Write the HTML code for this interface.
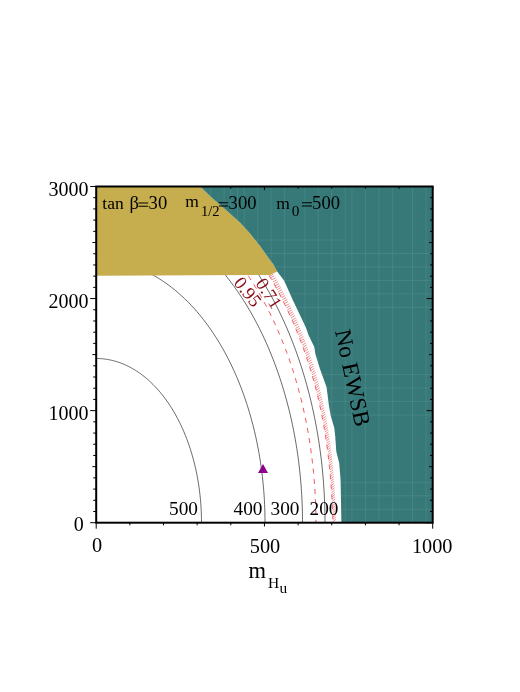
<!DOCTYPE html><html><head><meta charset="utf-8"><style>html,body{margin:0;padding:0;background:#fff}svg{display:block;will-change:transform;opacity:0.999}text{font-family:"Liberation Serif",serif;fill:#000}</style></head><body>
<svg width="520" height="692" viewBox="0 0 520 692">
<rect width="520" height="692" fill="#fff"/>
<defs><clipPath id="tc"><path d="M200.20,186.50 L211.00,197.00 L226.00,210.00 L236.00,219.00 L240.00,222.50 L250.00,233.50 L260.00,246.00 L270.00,260.00 L273.10,264.00 L277.20,271.50 L284.20,280.80 L292.80,300.00 L306.00,327.70 L308.50,335.00 L314.30,347.10 L315.40,354.00 L320.00,369.00 L326.60,387.30 L328.90,405.50 L330.80,416.00 L334.30,428.10 L335.20,436.00 L336.30,451.60 L339.20,463.10 L340.60,479.90 L341.40,522.70 L432.70,522.70 L432.70,186.50Z"/></clipPath><clipPath id="wc"><rect x="96.2" y="270" width="336.5" height="252.70000000000005"/></clipPath></defs>
<g clip-path="url(#wc)" fill="none">
<path d="M201.50,522.70 L201.49,521.09 L201.48,519.48 L201.45,517.86 L201.42,516.25 L201.37,514.64 L201.32,513.03 L201.25,511.42 L201.18,509.82 L201.09,508.21 L200.99,506.61 L200.89,505.00 L200.77,503.40 L200.64,501.80 L200.51,500.20 L200.36,498.61 L200.20,497.01 L200.04,495.42 L199.86,493.83 L199.67,492.25 L199.48,490.67 L199.27,489.09 L199.05,487.51 L198.83,485.94 L198.59,484.37 L198.34,482.80 L198.09,481.24 L197.82,479.68 L197.55,478.13 L197.26,476.58 L196.97,475.04 L196.66,473.49 L196.35,471.96 L196.02,470.43 L195.69,468.90 L195.34,467.38 L194.99,465.87 L194.63,464.36 L194.26,462.85 L193.88,461.36 L193.48,459.86 L193.08,458.38 L192.67,456.90 L192.26,455.42 L191.83,453.96 L191.39,452.50 L190.94,451.04 L190.49,449.59 L190.02,448.15 L189.55,446.72 L189.07,445.30 L188.57,443.88 L188.07,442.47 L187.56,441.07 L187.05,439.67 L186.52,438.28 L185.98,436.91 L185.44,435.54 L184.89,434.17 L184.32,432.82 L183.75,431.48 L183.18,430.14 L182.59,428.81 L181.99,427.49 L181.39,426.19 L180.78,424.89 L180.16,423.60 L179.53,422.32 L178.89,421.04 L178.25,419.78 L177.60,418.53 L176.94,417.29 L176.27,416.06 L175.60,414.84 L174.91,413.63 L174.22,412.43 L173.52,411.24 L172.82,410.06 L172.11,408.90 L171.39,407.74 L170.66,406.59 L169.92,405.46 L169.18,404.34 L168.43,403.22 L167.68,402.12 L166.92,401.04 L166.15,399.96 L165.37,398.89 L164.59,397.84 L163.80,396.80 L163.00,395.77 L162.20,394.76 L161.39,393.75 L160.58,392.76 L159.75,391.78 L158.93,390.81 L158.09,389.86 L157.25,388.92 L156.41,387.99 L155.56,387.07 L154.70,386.17 L153.84,385.28 L152.97,384.41 L152.10,383.55 L151.22,382.70 L150.34,381.86 L149.45,381.04 L148.55,380.23 L147.65,379.44 L146.75,378.66 L145.84,377.89 L144.92,377.14 L144.01,376.40 L143.08,375.67 L142.15,374.96 L141.22,374.26 L140.28,373.58 L139.34,372.92 L138.40,372.26 L137.45,371.62 L136.50,371.00 L135.54,370.39 L134.58,369.79 L133.61,369.21 L132.65,368.65 L131.67,368.10 L130.70,367.56 L129.72,367.04 L128.74,366.54 L127.75,366.05 L126.77,365.57 L125.78,365.11 L124.78,364.66 L123.79,364.23 L122.79,363.82 L121.79,363.42 L120.78,363.04 L119.78,362.67 L118.77,362.32 L117.76,361.98 L116.74,361.66 L115.73,361.35 L114.71,361.06 L113.69,360.78 L112.67,360.52 L111.65,360.28 L110.63,360.05 L109.60,359.84 L108.58,359.64 L107.55,359.46 L106.52,359.29 L105.49,359.14 L104.46,359.01 L103.43,358.89 L102.40,358.78 L101.37,358.70 L100.33,358.63 L99.30,358.57 L98.27,358.53 L97.23,358.51 L96.20,358.50" stroke="#000" stroke-width="0.6"/>
<path d="M265.00,522.70 L264.99,520.12 L264.97,517.54 L264.93,514.96 L264.87,512.37 L264.80,509.80 L264.71,507.22 L264.60,504.64 L264.48,502.07 L264.34,499.49 L264.19,496.92 L264.02,494.35 L263.83,491.79 L263.63,489.23 L263.41,486.67 L263.17,484.11 L262.92,481.56 L262.65,479.01 L262.37,476.47 L262.07,473.93 L261.76,471.39 L261.43,468.86 L261.08,466.34 L260.71,463.82 L260.34,461.30 L259.94,458.80 L259.53,456.29 L259.10,453.80 L258.66,451.31 L258.20,448.83 L257.73,446.36 L257.24,443.89 L256.74,441.43 L256.22,438.98 L255.68,436.53 L255.13,434.10 L254.57,431.67 L253.99,429.25 L253.39,426.84 L252.78,424.44 L252.15,422.05 L251.51,419.67 L250.85,417.30 L250.18,414.94 L249.49,412.59 L248.79,410.25 L248.08,407.92 L247.35,405.61 L246.60,403.30 L245.84,401.01 L245.07,398.72 L244.28,396.45 L243.48,394.19 L242.66,391.95 L241.83,389.71 L240.98,387.49 L240.13,385.28 L239.25,383.09 L238.37,380.91 L237.47,378.74 L236.55,376.59 L235.62,374.45 L234.68,372.32 L233.73,370.21 L232.76,368.11 L231.78,366.03 L230.79,363.96 L229.78,361.91 L228.76,359.88 L227.73,357.86 L226.68,355.85 L225.63,353.87 L224.56,351.90 L223.47,349.94 L222.38,348.00 L221.27,346.08 L220.15,344.18 L219.02,342.29 L217.88,340.42 L216.73,338.57 L215.56,336.73 L214.38,334.91 L213.19,333.12 L211.99,331.34 L210.78,329.57 L209.56,327.83 L208.33,326.11 L207.08,324.40 L205.83,322.71 L204.56,321.05 L203.29,319.40 L202.00,317.77 L200.70,316.16 L199.40,314.57 L198.08,313.00 L196.75,311.46 L195.42,309.93 L194.07,308.42 L192.72,306.93 L191.35,305.47 L189.98,304.02 L188.60,302.60 L187.21,301.20 L185.81,299.82 L184.40,298.46 L182.98,297.12 L181.55,295.80 L180.12,294.51 L178.68,293.23 L177.23,291.98 L175.77,290.75 L174.31,289.55 L172.83,288.37 L171.35,287.20 L169.87,286.07 L168.37,284.95 L166.87,283.86 L165.36,282.79 L163.85,281.74 L162.32,280.72 L160.80,279.72 L159.26,278.74 L157.72,277.79 L156.18,276.86 L154.62,275.96 L153.07,275.07 L151.50,274.22 L149.94,273.38 L148.36,272.57 L146.78,271.79 L145.20,271.02 L143.61,270.29 L142.02,269.57 L140.42,268.89 L138.82,268.22 L137.22,267.58 L135.61,266.97 L133.99,266.38 L132.38,265.81 L130.75,265.27 L129.13,264.75 L127.50,264.26 L125.87,263.80 L124.24,263.35 L122.61,262.94 L120.97,262.55 L119.33,262.18 L117.69,261.84 L116.04,261.52 L114.39,261.23 L112.75,260.97 L111.10,260.73 L109.44,260.51 L107.79,260.32 L106.14,260.16 L104.48,260.02 L102.83,259.90 L101.17,259.81 L99.51,259.75 L97.86,259.71 L96.20,259.70" stroke="#000" stroke-width="0.6"/>
<path d="M302.50,522.70 L302.49,519.58 L302.46,516.46 L302.41,513.35 L302.34,510.23 L302.25,507.12 L302.14,504.00 L302.01,500.89 L301.86,497.78 L301.70,494.67 L301.51,491.57 L301.30,488.47 L301.07,485.37 L300.82,482.28 L300.55,479.18 L300.27,476.10 L299.96,473.02 L299.63,469.94 L299.29,466.87 L298.92,463.80 L298.54,460.74 L298.13,457.68 L297.71,454.64 L297.26,451.59 L296.80,448.56 L296.32,445.53 L295.82,442.51 L295.29,439.50 L294.75,436.49 L294.20,433.49 L293.62,430.51 L293.02,427.53 L292.40,424.56 L291.77,421.60 L291.11,418.64 L290.44,415.70 L289.75,412.77 L289.04,409.85 L288.31,406.94 L287.56,404.05 L286.80,401.16 L286.01,398.28 L285.21,395.42 L284.39,392.57 L283.55,389.73 L282.69,386.91 L281.82,384.10 L280.93,381.30 L280.01,378.51 L279.09,375.74 L278.14,372.98 L277.18,370.24 L276.20,367.51 L275.20,364.80 L274.18,362.10 L273.15,359.42 L272.10,356.75 L271.03,354.10 L269.95,351.47 L268.85,348.85 L267.73,346.25 L266.60,343.67 L265.45,341.10 L264.28,338.55 L263.10,336.02 L261.90,333.51 L260.69,331.01 L259.46,328.53 L258.21,326.08 L256.95,323.64 L255.67,321.22 L254.38,318.82 L253.07,316.44 L251.75,314.07 L250.41,311.73 L249.06,309.41 L247.69,307.11 L246.31,304.83 L244.91,302.58 L243.50,300.34 L242.08,298.12 L240.64,295.93 L239.18,293.76 L237.72,291.61 L236.24,289.48 L234.74,287.37 L233.24,285.29 L231.71,283.23 L230.18,281.20 L228.63,279.18 L227.08,277.19 L225.50,275.23 L223.92,273.28 L222.32,271.37 L220.71,269.47 L219.09,267.60 L217.46,265.76 L215.82,263.94 L214.16,262.14 L212.49,260.37 L210.81,258.63 L209.12,256.91 L207.42,255.21 L205.71,253.54 L203.99,251.90 L202.26,250.29 L200.52,248.70 L198.76,247.13 L197.00,245.60 L195.23,244.09 L193.45,242.60 L191.66,241.15 L189.86,239.72 L188.05,238.31 L186.23,236.94 L184.40,235.59 L182.57,234.27 L180.73,232.98 L178.87,231.72 L177.01,230.48 L175.15,229.28 L173.27,228.10 L171.39,226.95 L169.50,225.82 L167.60,224.73 L165.70,223.67 L163.79,222.63 L161.87,221.62 L159.95,220.64 L158.02,219.70 L156.09,218.78 L154.14,217.89 L152.20,217.02 L150.25,216.19 L148.29,215.39 L146.33,214.62 L144.36,213.88 L142.39,213.16 L140.41,212.48 L138.43,211.83 L136.45,211.20 L134.46,210.61 L132.47,210.05 L130.47,209.51 L128.47,209.01 L126.47,208.54 L124.47,208.10 L122.46,207.68 L120.45,207.30 L118.44,206.95 L116.42,206.63 L114.40,206.34 L112.39,206.08 L110.37,205.85 L108.35,205.65 L106.32,205.48 L104.30,205.34 L102.28,205.24 L100.25,205.16 L98.23,205.12 L96.20,205.10" stroke="#000" stroke-width="0.6"/>
<path d="M325.00,522.70 L324.99,519.24 L324.96,515.79 L324.90,512.33 L324.82,508.88 L324.72,505.43 L324.60,501.98 L324.46,498.53 L324.29,495.08 L324.11,491.64 L323.90,488.20 L323.67,484.76 L323.41,481.33 L323.14,477.90 L322.84,474.47 L322.52,471.05 L322.18,467.64 L321.82,464.22 L321.44,460.82 L321.03,457.42 L320.60,454.03 L320.15,450.64 L319.68,447.26 L319.19,443.89 L318.68,440.53 L318.14,437.17 L317.59,433.82 L317.01,430.48 L316.41,427.15 L315.79,423.83 L315.15,420.52 L314.49,417.22 L313.80,413.93 L313.10,410.64 L312.37,407.37 L311.63,404.11 L310.86,400.87 L310.07,397.63 L309.26,394.41 L308.43,391.19 L307.58,388.00 L306.71,384.81 L305.82,381.64 L304.91,378.48 L303.98,375.33 L303.03,372.20 L302.06,369.08 L301.07,365.98 L300.06,362.90 L299.03,359.82 L297.98,356.77 L296.92,353.73 L295.83,350.71 L294.72,347.70 L293.59,344.71 L292.45,341.74 L291.28,338.78 L290.10,335.84 L288.90,332.92 L287.68,330.02 L286.44,327.14 L285.18,324.28 L283.91,321.43 L282.61,318.61 L281.30,315.80 L279.97,313.01 L278.63,310.25 L277.26,307.50 L275.88,304.78 L274.48,302.08 L273.06,299.39 L271.63,296.73 L270.18,294.09 L268.71,291.48 L267.23,288.88 L265.73,286.31 L264.21,283.76 L262.68,281.24 L261.13,278.73 L259.57,276.25 L257.99,273.80 L256.39,271.37 L254.78,268.96 L253.15,266.58 L251.51,264.22 L249.85,261.89 L248.18,259.58 L246.49,257.29 L244.79,255.04 L243.08,252.81 L241.35,250.60 L239.61,248.42 L237.85,246.27 L236.08,244.14 L234.29,242.04 L232.50,239.97 L230.69,237.93 L228.86,235.91 L227.03,233.92 L225.18,231.96 L223.31,230.02 L221.44,228.12 L219.55,226.24 L217.66,224.39 L215.75,222.57 L213.83,220.78 L211.89,219.02 L209.95,217.28 L208.00,215.58 L206.03,213.91 L204.06,212.26 L202.07,210.65 L200.07,209.07 L198.07,207.51 L196.05,205.99 L194.02,204.50 L191.99,203.03 L189.94,201.60 L187.89,200.20 L185.83,198.83 L183.76,197.49 L181.68,196.19 L179.59,194.91 L177.50,193.67 L175.39,192.46 L173.28,191.28 L171.16,190.13 L169.04,189.01 L166.90,187.93 L164.76,186.88 L162.62,185.86 L160.46,184.87 L158.31,183.92 L156.14,182.99 L153.97,182.11 L151.79,181.25 L149.61,180.43 L147.43,179.64 L145.23,178.88 L143.04,178.15 L140.84,177.46 L138.63,176.81 L136.42,176.18 L134.21,175.59 L131.99,175.03 L129.77,174.51 L127.55,174.02 L125.32,173.56 L123.09,173.14 L120.86,172.75 L118.63,172.39 L116.39,172.07 L114.15,171.79 L111.91,171.53 L109.67,171.31 L107.43,171.12 L105.18,170.97 L102.94,170.85 L100.69,170.77 L98.45,170.72 L96.20,170.70" stroke="#000" stroke-width="0.6"/>
<path d="M247.82,275.20 L248.62,276.40 L249.42,277.60 L250.22,278.81 L251.01,280.02 L251.79,281.25 L252.58,282.47 L253.35,283.71 L254.13,284.95 L254.90,286.19 L255.66,287.45 L256.43,288.71 L257.19,289.97 L257.94,291.24 L258.69,292.52 L259.43,293.80 L260.18,295.09 L260.91,296.38 L261.65,297.68 L262.38,298.98 L263.10,300.30 L263.82,301.61 L264.54,302.93 L265.25,304.26 L265.96,305.60 L266.66,306.94 L267.36,308.28 L268.05,309.63 L268.74,310.99 L269.43,312.35 L270.11,313.71 L270.79,315.08 L271.46,316.46 L272.13,317.84 L272.79,319.23 L273.45,320.62 L274.10,322.02 L274.75,323.43 L275.40,324.83 L276.04,326.25 L276.67,327.66 L277.30,329.09 L277.93,330.52 L278.55,331.95 L279.17,333.39 L279.78,334.83 L280.39,336.28 L280.99,337.73 L281.59,339.19 L282.19,340.65 L282.78,342.12 L283.36,343.59 L283.94,345.06 L284.51,346.54 L285.08,348.03 L285.65,349.52 L286.21,351.01 L286.76,352.51 L287.31,354.01 L287.86,355.52 L288.40,357.03 L288.94,358.54 L289.47,360.06 L289.99,361.59 L290.51,363.11 L291.03,364.64 L291.54,366.18 L292.05,367.72 L292.55,369.26 L293.04,370.81 L293.54,372.36 L294.02,373.92 L294.50,375.48 L294.98,377.04 L295.45,378.61 L295.91,380.18 L296.37,381.75 L296.83,383.33 L297.28,384.91 L297.72,386.49 L298.16,388.08 L298.60,389.67 L299.03,391.27 L299.45,392.87 L299.87,394.47 L300.29,396.07 L300.70,397.68 L301.10,399.29 L301.50,400.91 L301.89,402.53 L302.28,404.15 L302.66,405.77 L303.04,407.40 L303.41,409.03 L303.78,410.66 L304.14,412.30 L304.49,413.93 L304.84,415.58 L305.19,417.22 L305.53,418.87 L305.86,420.51 L306.19,422.17 L306.52,423.82 L306.84,425.48 L307.15,427.14 L307.46,428.80 L307.76,430.46 L308.06,432.13 L308.35,433.80 L308.63,435.47 L308.91,437.14 L309.19,438.82 L309.46,440.50 L309.72,442.18 L309.98,443.86 L310.24,445.54 L310.48,447.23 L310.73,448.92 L310.96,450.61 L311.19,452.30 L311.42,453.99 L311.64,455.69 L311.86,457.38 L312.07,459.08 L312.27,460.78 L312.47,462.48 L312.66,464.19 L312.85,465.89 L313.03,467.60 L313.21,469.30 L313.38,471.01 L313.54,472.72 L313.70,474.44 L313.86,476.15 L314.00,477.86 L314.15,479.58 L314.28,481.29 L314.42,483.01 L314.54,484.73 L314.66,486.45 L314.78,488.17 L314.89,489.89 L314.99,491.61 L315.09,493.33 L315.18,495.06 L315.27,496.78 L315.35,498.51 L315.43,500.23 L315.50,501.96 L315.56,503.69 L315.62,505.41 L315.67,507.14 L315.72,508.87 L315.76,510.60 L315.80,512.32 L315.83,514.05 L315.86,515.78 L315.87,517.51 L315.89,519.24 L315.90,520.97 L315.90,522.70" stroke="#f03c44" stroke-width="0.9" stroke-dasharray="5.1 5.17" stroke-dashoffset="-0.7"/>
<path d="M269.54,276.15 l3.88,-2.07 M270.56,277.90 l3.87,-2.07 M271.71,279.90 l3.87,-2.07 M272.85,281.90 l3.86,-2.08 M273.97,283.90 l3.85,-2.08 M275.09,285.90 l3.85,-2.08 M276.18,287.90 l3.84,-2.09 M277.13,289.65 l3.83,-2.09 M278.20,291.65 l3.83,-2.09 M279.26,293.65 l3.82,-2.09 M280.31,295.65 l3.81,-2.10 M281.34,297.65 l3.80,-2.10 M282.36,299.65 l3.80,-2.10 M283.37,301.65 l3.79,-2.11 M284.36,303.65 l3.78,-2.11 M285.47,305.90 l3.77,-2.11 M286.43,307.90 l3.77,-2.12 M287.39,309.90 l3.76,-2.12 M288.33,311.90 l3.75,-2.12 M289.26,313.90 l3.74,-2.12 M290.17,315.90 l3.74,-2.13 M291.08,317.90 l3.73,-2.13 M292.08,320.15 l3.72,-2.13 M292.96,322.15 l3.72,-2.14 M293.83,324.15 l3.71,-2.14 M294.68,326.15 l3.70,-2.14 M295.63,328.40 l3.69,-2.15 M296.46,330.40 l3.69,-2.15 M297.28,332.40 l3.68,-2.15 M298.18,334.65 l3.67,-2.15 M298.97,336.65 l3.66,-2.16 M299.76,338.65 l3.66,-2.16 M300.62,340.90 l3.65,-2.16 M301.38,342.90 l3.64,-2.17 M302.22,345.15 l3.63,-2.17 M302.95,347.15 l3.63,-2.17 M303.76,349.40 l3.62,-2.17 M304.47,351.40 l3.61,-2.18 M305.26,353.65 l3.60,-2.18 M305.95,355.65 l3.59,-2.18 M306.70,357.90 l3.59,-2.18 M307.37,359.90 l3.58,-2.19 M308.10,362.15 l3.57,-2.19 M308.75,364.15 l3.56,-2.19 M309.45,366.40 l3.56,-2.20 M310.07,368.40 l3.55,-2.20 M310.76,370.65 l3.54,-2.20 M311.43,372.90 l3.53,-2.20 M312.02,374.90 l3.52,-2.21 M312.67,377.15 l3.52,-2.21 M313.30,379.40 l3.51,-2.21 M313.86,381.40 l3.50,-2.21 M314.47,383.65 l3.49,-2.22 M315.07,385.90 l3.49,-2.22 M315.59,387.90 l3.48,-2.22 M316.17,390.15 l3.47,-2.22 M316.73,392.40 l3.46,-2.23 M317.29,394.65 l3.45,-2.23 M317.77,396.65 l3.45,-2.23 M318.30,398.90 l3.44,-2.23 M318.82,401.15 l3.43,-2.24 M319.33,403.40 l3.42,-2.24 M319.77,405.40 l3.41,-2.24 M320.26,407.65 l3.41,-2.24 M320.73,409.90 l3.40,-2.24 M321.20,412.15 l3.39,-2.25 M321.65,414.40 l3.38,-2.25 M322.05,416.40 l3.38,-2.25 M322.48,418.65 l3.37,-2.25 M322.91,420.90 l3.36,-2.26 M323.32,423.15 l3.35,-2.26 M323.72,425.40 l3.34,-2.26 M324.12,427.65 l3.33,-2.26 M324.50,429.90 l3.33,-2.27 M324.83,431.90 l3.32,-2.27 M325.20,434.15 l3.31,-2.27 M325.55,436.40 l3.30,-2.27 M325.90,438.65 l3.30,-2.27 M326.23,440.90 l3.29,-2.28 M326.56,443.15 l3.28,-2.28 M326.88,445.40 l3.27,-2.28 M327.18,447.65 l3.26,-2.28 M327.48,449.90 l3.25,-2.28 M327.77,452.15 l3.25,-2.29 M328.05,454.40 l3.24,-2.29 M328.32,456.65 l3.23,-2.29 M328.56,458.65 l3.22,-2.29 M328.81,460.90 l3.22,-2.29 M329.06,463.15 l3.21,-2.30 M329.30,465.40 l3.20,-2.30 M329.53,467.65 l3.19,-2.30 M329.76,469.90 l3.18,-2.30 M329.97,472.15 l3.17,-2.30 M330.18,474.40 l3.17,-2.31 M330.38,476.65 l3.16,-2.31 M330.57,478.90 l3.15,-2.31 M330.75,481.15 l3.14,-2.31 M330.93,483.40 l3.13,-2.31 M331.10,485.65 l3.13,-2.31 M331.26,487.90 l3.12,-2.32 M331.42,490.15 l3.11,-2.32 M331.56,492.40 l3.10,-2.32 M331.71,494.65 l3.09,-2.32 M331.84,496.90 l3.09,-2.32 M331.97,499.15 l3.08,-2.32 M332.09,501.40 l3.07,-2.33 M332.20,503.65 l3.06,-2.33 M332.31,505.90 l3.05,-2.33 M332.42,508.15 l3.05,-2.33 M332.51,510.40 l3.04,-2.33 M332.60,512.65 l3.03,-2.33 M332.69,514.90 l3.02,-2.33 M332.77,517.15 l3.01,-2.34 M332.84,519.40 l3.01,-2.34 M332.91,521.65 l3.00,-2.34" stroke="#e2444e" stroke-width="0.6" fill="none"/>
<path d="M269.10,275.40 L270.27,277.40 L271.43,279.40 L272.57,281.40 L273.69,283.40 L274.81,285.40 L275.91,287.40 L277.00,289.40 L278.07,291.40 L279.13,293.40 L280.18,295.40 L281.21,297.40 L282.23,299.40 L283.24,301.40 L284.24,303.40 L285.22,305.40 L286.19,307.40 L287.15,309.40 L288.09,311.40 L289.03,313.40 L289.95,315.40 L290.85,317.40 L291.75,319.40 L292.63,321.40 L293.50,323.40 L294.36,325.40 L295.21,327.40 L296.04,329.40 L296.87,331.40 L297.68,333.40 L298.48,335.40 L299.27,337.40 L300.05,339.40 L300.81,341.40 L301.57,343.40 L302.31,345.40 L303.04,347.40 L303.76,349.40 L304.47,351.40 L305.17,353.40 L305.86,355.40 L306.54,357.40 L307.20,359.40 L307.86,361.40 L308.51,363.40 L309.14,365.40 L309.77,367.40 L310.38,369.40 L310.98,371.40 L311.58,373.40 L312.16,375.40 L312.74,377.40 L313.30,379.40 L313.86,381.40 L314.40,383.40 L314.94,385.40 L315.46,387.40 L315.98,389.40 L316.48,391.40 L316.98,393.40 L317.47,395.40 L317.95,397.40 L318.42,399.40 L318.88,401.40 L319.33,403.40 L319.77,405.40 L320.20,407.40 L320.63,409.40 L321.05,411.40 L321.45,413.40 L321.85,415.40 L322.24,417.40 L322.63,419.40 L323.00,421.40 L323.37,423.40 L323.72,425.40 L324.07,427.40 L324.42,429.40 L324.75,431.40 L325.08,433.40 L325.40,435.40 L325.71,437.40 L326.01,439.40 L326.31,441.40 L326.59,443.40 L326.88,445.40 L327.15,447.40 L327.42,449.40 L327.68,451.40 L327.93,453.40 L328.17,455.40 L328.41,457.40 L328.65,459.40 L328.87,461.40 L329.09,463.40 L329.30,465.40 L329.51,467.40 L329.71,469.40 L329.90,471.40 L330.09,473.40 L330.27,475.40 L330.44,477.40 L330.61,479.40 L330.77,481.40 L330.93,483.40 L331.08,485.40 L331.23,487.40 L331.36,489.40 L331.50,491.40 L331.63,493.40 L331.75,495.40 L331.87,497.40 L331.98,499.40 L332.09,501.40 L332.19,503.40 L332.29,505.40 L332.38,507.40 L332.47,509.40 L332.55,511.40 L332.63,513.40 L332.71,515.40 L332.77,517.40 L332.84,519.40 L332.90,521.40" stroke="#ee3640" stroke-width="0.8" stroke-dasharray="4.8 5.2"/>
</g>
<path d="M96.20,186.50 L200.20,186.50 L211.00,197.00 L226.00,210.00 L236.00,219.00 L240.00,222.50 L250.00,233.50 L260.00,246.00 L270.00,260.00 L273.10,264.00 L277.20,271.50 L269.80,275.00 L96.20,275.80Z" fill="#c6ad4e"/>
<path d="M200.20,186.50 L211.00,197.00 L226.00,210.00 L236.00,219.00 L240.00,222.50 L250.00,233.50 L260.00,246.00 L270.00,260.00 L273.10,264.00 L277.20,271.50 L284.20,280.80 L292.80,300.00 L306.00,327.70 L308.50,335.00 L314.30,347.10 L315.40,354.00 L320.00,369.00 L326.60,387.30 L328.90,405.50 L330.80,416.00 L334.30,428.10 L335.20,436.00 L336.30,451.60 L339.20,463.10 L340.60,479.90 L341.40,522.70 L432.70,522.70 L432.70,186.50Z" fill="#367978"/>
<path d="M210.61,186.5 V522.7 M224.07,186.5 V522.7 M230.80,186.5 V522.7 M237.53,186.5 V522.7 M244.26,186.5 V522.7 M257.72,186.5 V522.7 M271.18,186.5 V522.7 M284.64,186.5 V522.7 M304.83,186.5 V522.7 M318.29,186.5 V522.7 M331.75,186.5 V522.7 M345.21,186.5 V522.7 M351.94,186.5 V522.7 M365.40,186.5 V522.7 M378.86,186.5 V522.7 M392.32,186.5 V522.7 M412.51,186.5 V522.7 M425.97,186.5 V522.7 M96.2,509.24 H432.7 M96.2,495.78 H432.7 M96.2,482.32 H432.7 M96.2,415.02 H432.7 M96.2,401.56 H432.7 M96.2,388.10 H432.7 M96.2,374.64 H432.7 M96.2,307.34 H432.7 M96.2,293.88 H432.7 M96.2,280.42 H432.7 M96.2,266.96 H432.7 M96.2,253.50 H432.7 M96.2,240.04 H345.21000000000004" stroke="#6aa3a3" stroke-opacity="0.42" stroke-width="0.7" fill="none" clip-path="url(#tc)"/>
<path d="M258,473 L268,473 L263,464Z" fill="#8c008c"/>
<rect x="96.2" y="186.5" width="336.5" height="336.20000000000005" fill="none" stroke="#000" stroke-width="2"/>
<path d="M96.20,522.7 v6 M129.85,522.7 v2.6 M163.50,522.7 v2.6 M197.15,522.7 v2.6 M230.80,522.7 v2.6 M230.80,186.5 v2.3 M264.45,522.7 v3.8 M264.45,186.5 v3.6 M298.10,522.7 v2.6 M298.10,186.5 v2.3 M331.75,522.7 v2.6 M331.75,186.5 v2.3 M365.40,522.7 v2.6 M365.40,186.5 v2.3 M399.05,522.7 v2.6 M399.05,186.5 v2.3 M432.70,522.7 v6 M432.70,186.5 v3.6 M96.2,522.70 h-6 M432.7,522.70 h-6 M96.2,511.49 h-3 M432.7,511.49 h-2.7 M96.2,500.29 h-3 M432.7,500.29 h-2.7 M96.2,489.08 h-3 M432.7,489.08 h-2.7 M96.2,477.87 h-3 M432.7,477.87 h-2.7 M96.2,466.67 h-3.8 M432.7,466.67 h-3.5 M96.2,455.46 h-3 M432.7,455.46 h-2.7 M96.2,444.25 h-3 M432.7,444.25 h-2.7 M96.2,433.05 h-3 M432.7,433.05 h-2.7 M96.2,421.84 h-3 M432.7,421.84 h-2.7 M96.2,410.63 h-6 M432.7,410.63 h-6 M96.2,399.43 h-3 M432.7,399.43 h-2.7 M96.2,388.22 h-3 M432.7,388.22 h-2.7 M96.2,377.01 h-3 M432.7,377.01 h-2.7 M96.2,365.81 h-3 M432.7,365.81 h-2.7 M96.2,354.60 h-3.8 M432.7,354.60 h-3.5 M96.2,343.39 h-3 M432.7,343.39 h-2.7 M96.2,332.19 h-3 M432.7,332.19 h-2.7 M96.2,320.98 h-3 M432.7,320.98 h-2.7 M96.2,309.77 h-3 M432.7,309.77 h-2.7 M96.2,298.57 h-6 M432.7,298.57 h-6 M96.2,287.36 h-3 M432.7,287.36 h-2.7 M96.2,276.15 h-3 M432.7,276.15 h-2.7 M96.2,264.95 h-3 M432.7,264.95 h-2.7 M96.2,253.74 h-3 M432.7,253.74 h-2.7 M96.2,242.53 h-3.8 M432.7,242.53 h-3.5 M96.2,231.33 h-3 M432.7,231.33 h-2.7 M96.2,220.12 h-3 M432.7,220.12 h-2.7 M96.2,208.91 h-3 M432.7,208.91 h-2.7 M96.2,197.71 h-3 M432.7,197.71 h-2.7 M96.2,186.50 h-6 M432.7,186.50 h-6" stroke="#000" stroke-width="1" fill="none"/>
<text x="83.8" y="530.90" font-size="20" text-anchor="end">0</text>
<text x="88.6" y="419.73" font-size="20" text-anchor="end">1000</text>
<text x="88.6" y="307.67" font-size="20" text-anchor="end">2000</text>
<text x="88.6" y="195.60" font-size="20" text-anchor="end">3000</text>
<text x="97.00" y="552.1" font-size="20.3" text-anchor="middle">0</text>
<text x="265.05" y="552.7" font-size="20.3" text-anchor="middle">500</text>
<text x="432.20" y="552.7" font-size="20.3" text-anchor="middle">1000</text>
<text x="324" y="514.6" font-size="19.3" text-anchor="middle">200</text>
<text x="285" y="514.6" font-size="19.3" text-anchor="middle">300</text>
<text x="248" y="514.6" font-size="19.3" text-anchor="middle">400</text>
<text x="183.5" y="514.6" font-size="19.3" text-anchor="middle">500</text>
<text x="102.3" y="209.4" font-size="17.5" >tan</text>
<text x="129.4" y="209.4" font-size="18.5" >β</text>
<path d="M138.4,203.0 H148.2 M138.4,206.2 H148.2" stroke="#000" stroke-width="1.1" fill="none"/>
<text x="148.6" y="209.4" font-size="18.6" >30</text>
<text x="185.3" y="207.2" font-size="17.5" >m</text>
<text x="201.0" y="215.6" font-size="14.6" >1/2</text>
<path d="M218.7,202.8 H228.2 M218.7,206.0 H228.2" stroke="#000" stroke-width="1.1" fill="none"/>
<text x="228.6" y="209.2" font-size="18.6" >300</text>
<text x="276.2" y="208.7" font-size="17.5" >m</text>
<text x="291.8" y="215.7" font-size="15.3" >0</text>
<path d="M302.0,202.8 H311.9 M302.0,206.0 H311.9" stroke="#000" stroke-width="1.1" fill="none"/>
<text x="312.1" y="209.2" font-size="18.6" >500</text>
<text transform="translate(248.0,291.7) rotate(52)" x="0" y="6.3" font-size="18.4" text-anchor="middle" style="fill:#8b0a14">0.95</text>
<text transform="translate(269.0,293.3) rotate(57)" x="0" y="6.3" font-size="18.4" text-anchor="middle" style="fill:#8b0a14">0.71</text>
<text transform="translate(335.0,331.2) rotate(78)" x="0" y="0" font-size="23.2">No EWSB</text>
<text x="248.5" y="578.3" font-size="22.5">m</text>
<text x="268" y="587.7" font-size="15.5">H</text>
<text x="279.5" y="592.5" font-size="15.3">u</text>
</svg></body></html>
